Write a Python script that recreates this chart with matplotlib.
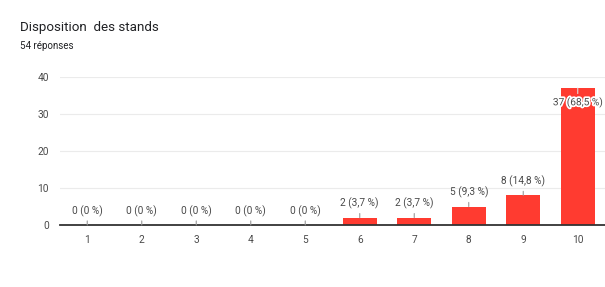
import matplotlib
matplotlib.use("Agg")
import matplotlib.pyplot as plt
import matplotlib.patheffects as pe

plt.rcParams['font.family'] = ['Roboto', 'DejaVu Sans']

# data
notes = [1, 2, 3, 4, 5, 6, 7, 8, 9, 10]
counts = [0, 0, 0, 0, 0, 2, 2, 5, 8, 37]
labels = ["0 (0 %)", "0 (0 %)", "0 (0 %)", "0 (0 %)", "0 (0 %)",
          "2 (3,7 %)", "2 (3,7 %)", "5 (9,3 %)", "8 (14,8 %)", "37 (68,5 %)"]
yticks = [0, 10, 20, 30, 40]

fig = plt.figure(figsize=(6.05, 2.87), dpi=100)
ax = fig.add_axes([60 / 605, 62 / 287, 545 / 605, 148 / 287])

ax.bar(notes, counts, width=0.62, color="#ff3b30", zorder=3)

for x, c, lab in zip(notes, counts, labels):
    if c > 30:
        # no room on top, label sits inside the bar
        ax.annotate(lab, xy=(x, c), xytext=(0, -14), textcoords="offset pixels",
                    ha="center", va="center", fontsize=7.3, color="#4a4a4a",
                    path_effects=[pe.withStroke(linewidth=2.5, foreground="white")],
                    arrowprops=dict(arrowstyle="-", color="#dddddd", lw=0.8,
                                    shrinkA=0, shrinkB=0, relpos=(0.5, 1)),
                    zorder=5)
    else:
        ax.annotate(lab, xy=(x, c), xytext=(0, 14), textcoords="offset pixels",
                    ha="center", va="center", fontsize=7.3, color="#4a4a4a",
                    arrowprops=dict(arrowstyle="-", color="#999999", lw=0.8,
                                    shrinkA=1, shrinkB=0, relpos=(0.5, 0)),
                    zorder=5)

ax.set_xlim(0.5, 10.5)
ax.set_ylim(0, 40)
ax.set_xticks(notes)
ax.set_yticks(yticks)
ax.tick_params(length=0, labelsize=7.3, labelcolor="#4a4a4a")
ax.tick_params(axis="x", pad=7)
ax.tick_params(axis="y", pad=8)
ax.grid(axis="y", color="#ebebeb", lw=0.8, zorder=0)
for s in ["top", "right", "left"]:
    ax.spines[s].set_visible(False)
ax.spines["bottom"].set_color("#333333")
ax.spines["bottom"].set_linewidth(1.3)
ax.spines["bottom"].set_zorder(4)

fig.text(20 / 605, 1 - 28 / 287, "Disposition  des stands", fontsize=9.6,
         color="#202124", va="center")
fig.text(20 / 605, 1 - 46 / 287, "54 réponses", fontsize=7,
         color="#202124", va="center")

fig.savefig("out.png", dpi=100)
